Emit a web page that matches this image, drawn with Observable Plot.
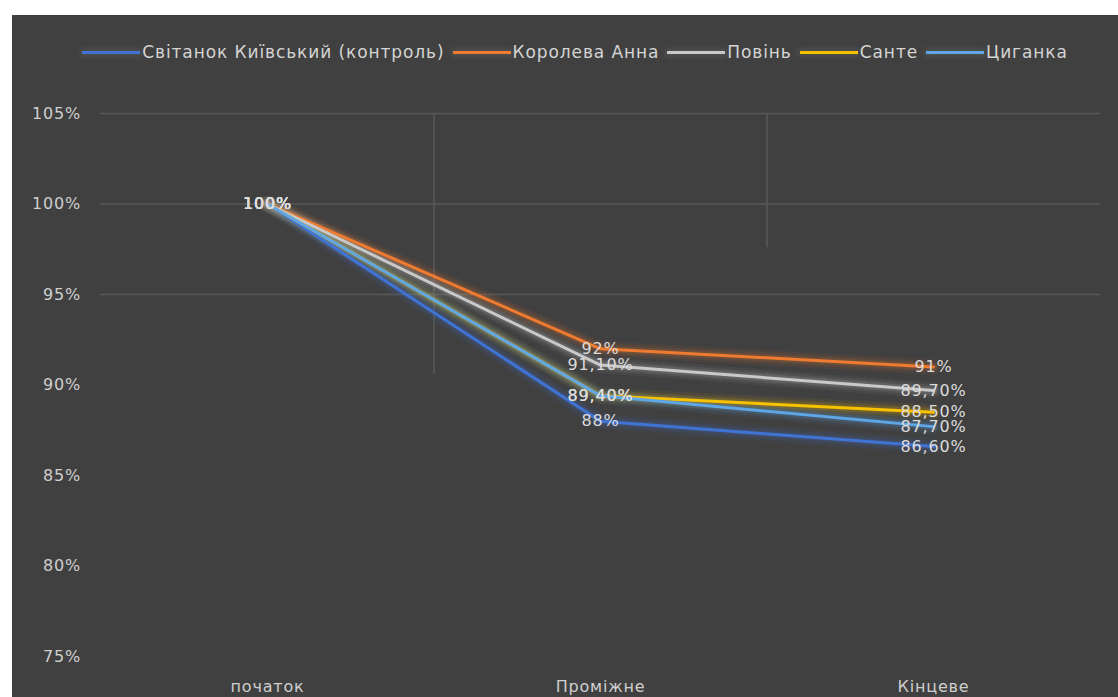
<!DOCTYPE html>
<html>
<head>
<meta charset="utf-8">
<script src="https://cdn.jsdelivr.net/npm/d3@7"></script>
<script src="https://cdn.jsdelivr.net/npm/@observablehq/plot@0.6"></script>
<style>
  body { margin: 0; background: #ffffff; }
  #chart {
    position: absolute; left: 12px; top: 15px; width: 1106px; height: 682px;
    background: #404040; overflow: hidden;
    font-family: "DejaVu Sans", "Noto Sans", sans-serif;
  }
  #legend {
    display: flex; justify-content: center; align-items: center;
    height: 56px; margin-top: 9px; color: #d4d4d4; font-size: 17px;
    letter-spacing: 0.9px; padding-left: 20px;
  }
  #legend .item { display: flex; align-items: center; margin: 0 4px; }
  #legend .swatch { width: 58px; height: 3px; margin-right: 2px; box-shadow: 0 0 6px 2px rgba(255,255,255,0.10); }
</style>
</head>
<body>
<div id="chart"><div id="legend"></div></div>
<script>
// Stages of the observation
const stages = ["початок", "Проміжне", "Кінцеве"];

// Varieties (legend order)
const varieties = ["Світанок Київський (контроль)", "Королева Анна", "Повінь", "Санте", "Циганка"];

// Share retained, % of the initial value, per stage
const svitanok = [100, 88, 86.6];
const koroleva = [100, 92, 91];
const povin    = [100, 91.1, 89.7];
const sante    = [100, 89.4, 88.5];
const tsyganka = [100, 89.4, 87.7];

// Y axis ticks
const yTicks = [75, 80, 85, 90, 95, 100, 105];
// Faint background grid
const gridLevels = [105, 100, 95];
const gridSeparators = [0.5, 1.5];
const gridSeparatorEnds = [90.6, 97.6];

const colors = ["#3f73d4", "#ee7b30", "#c9c9c9", "#f7c200", "#5ea6e6"];

const seriesValues = [svitanok, koroleva, povin, sante, tsyganka];

// Label like 91,10% for fractional values, 92% for whole ones
const fmt = v => Number.isInteger(v) ? `${v}%` : `${v.toFixed(2).replace(".", ",")}%`;

const rows = [];
varieties.forEach((name, s) => {
  seriesValues[s].forEach((v, i) => rows.push({series: name, stage: i, value: v, label: fmt(v)}));
});

const separators = gridSeparators.map((x, i) => ({x, y2: gridSeparatorEnds[i]}));

// Legend
const legend = document.getElementById("legend");
varieties.forEach((name, i) => {
  const item = document.createElement("div");
  item.className = "item";
  const sw = document.createElement("div");
  sw.className = "swatch";
  sw.style.background = colors[i];
  const label = document.createElement("span");
  label.textContent = name;
  item.append(sw, label);
  legend.append(item);
});

// Soft glow around each series: wide, faint strokes under the line itself
const glow = (width, opacity) => Plot.line(rows, {
  x: "stage", y: "value", z: "series", stroke: "series",
  strokeWidth: width, strokeOpacity: opacity,
  strokeLinejoin: "round", strokeLinecap: "round"
});

const plot = Plot.plot({
  width: 1106,
  height: 617,
  marginLeft: 88.5,
  marginRight: 18.5,
  marginTop: 33,
  marginBottom: 41,
  style: {
    background: "transparent",
    color: "#cfcfcf",
    fontFamily: "DejaVu Sans, Noto Sans, sans-serif",
    fontSize: "16px",
    overflow: "visible"
  },
  x: {
    domain: [-0.5, 2.5],
    ticks: [0, 1, 2],
    tickFormat: i => stages[i],
    tickSize: 0,
    tickPadding: 24,
    label: null
  },
  y: {
    domain: [75, 105],
    ticks: yTicks,
    tickFormat: d => `${d}%`,
    tickSize: 0,
    tickPadding: 20,
    label: null
  },
  color: { domain: varieties, range: colors },
  marks: [
    Plot.ruleY(gridLevels, { stroke: "#585858", strokeWidth: 1.5 }),
    Plot.ruleX(separators, { x: "x", y1: 105, y2: "y2", stroke: "#585858", strokeWidth: 1.5 }),
    glow(16, 0.06),
    glow(11, 0.09),
    glow(7, 0.14),
    Plot.line(rows, {
      x: "stage", y: "value", z: "series", stroke: "series",
      strokeWidth: 3, strokeLinejoin: "round", strokeLinecap: "round"
    }),
    Plot.text(rows, {
      x: "stage", y: "value", text: "label", fill: "#dcdcdc", fontSize: 16
    })
  ]
});

d3.select(plot).selectAll("text").style("letter-spacing", "0.8px");

document.getElementById("chart").append(plot);
</script>
</body>
</html>
